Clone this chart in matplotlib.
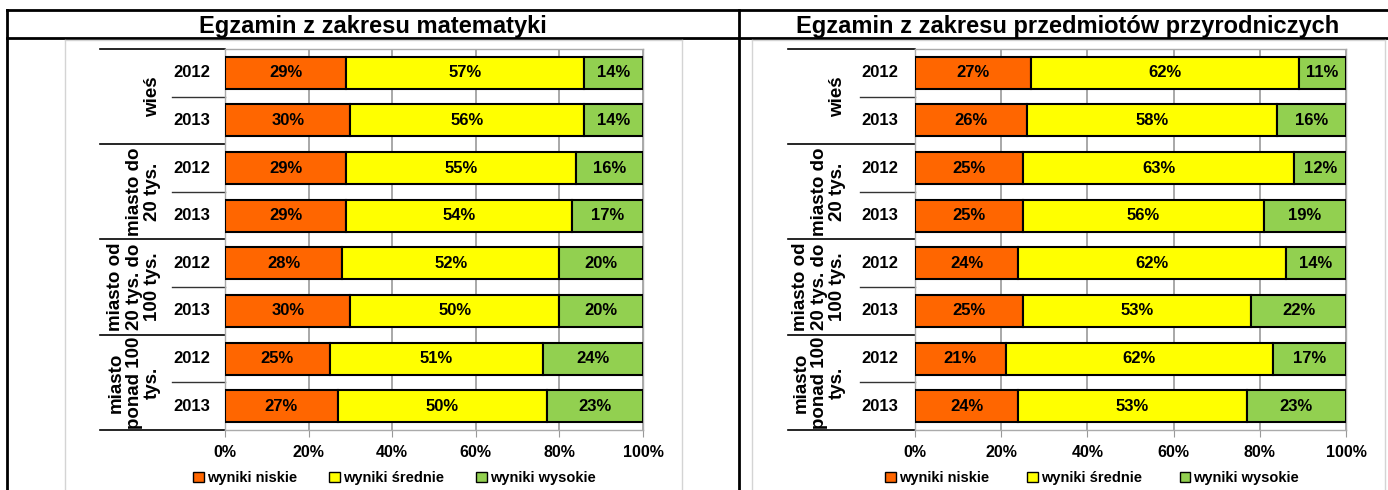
import matplotlib.pyplot as plt
import matplotlib.transforms as mtransforms
from matplotlib.lines import Line2D
from matplotlib.patches import Patch

plt.rcParams['font.family'] = ['Liberation Sans', 'DejaVu Sans']

# data
groups = ['wieś', 'miasto do\n20 tys.', 'miasto od\n20 tys. do\n100 tys.', 'miasto\nponad 100\ntys.']
years = ['2012', '2013']
series = ['wyniki niskie', 'wyniki średnie', 'wyniki wysokie']
colors = ['#FF6600', '#FFFF00', '#92D050']

math_low = [29, 30, 29, 29, 28, 30, 25, 27]
math_mid = [57, 56, 55, 54, 52, 50, 51, 50]
math_high = [14, 14, 16, 17, 20, 20, 24, 23]

sci_low = [27, 26, 25, 25, 24, 25, 21, 24]
sci_mid = [62, 58, 63, 56, 62, 53, 62, 53]
sci_high = [11, 16, 12, 19, 14, 22, 17, 23]

titles = ['Egzamin z zakresu matematyki', 'Egzamin z zakresu przedmiotów przyrodniczych']
ticks = [0, 20, 40, 60, 80, 100]

W, H = 1388, 490
fig = plt.figure(figsize=(W / 100, H / 100), dpi=100)


def fx(x):
    return x / W


def fy(y):
    return 1 - y / H


def fline(x0, x1, y0, y1, **kw):
    fig.add_artist(Line2D([fx(x0), fx(x1)], [fy(y0), fy(y1)], transform=fig.transFigure, **kw))


# table grid
fline(7, W, 10, 10, color='black', lw=2)
fline(7, W, 38, 38, color='black', lw=2)
fline(7, 7, 10, H, color='black', lw=2)
fline(739, 739, 10, H, color='black', lw=2)

panels = [
    dict(data=(math_low, math_mid, math_high), plot=(225, 643), frame=(65, 682),
         gline=100, yline=172, glab=161, ylab=192, leg=394, colsp=2.2, tx=373),
    dict(data=(sci_low, sci_mid, sci_high), plot=(915, 1346), frame=(752, 1385),
         gline=788, yline=860, glab=846, ylab=880, leg=1092, colsp=2.6, tx=1068),
]

top, bottom = 49, 430
for p, title in zip(panels, titles):
    x0, x1 = p['plot']
    fig.text(fx(p['tx']), fy(26), title, ha='center', va='center', fontsize=17, fontweight='bold')

    # light frame of the chart area
    fl, fr = p['frame']
    fline(fl, fl, 40, H, color='#d4d4d4', lw=1)
    fline(fr, fr, 40, H, color='#d4d4d4', lw=1)
    fline(fl, fr, 40, 40, color='#d4d4d4', lw=1)

    ax = fig.add_axes([fx(x0), fy(bottom), fx(x1) - fx(x0), fy(top) - fy(bottom)])
    n = len(p['data'][0])
    ypos = list(range(n))
    left = [0] * n
    for vals, col in zip(p['data'], colors):
        bars = ax.barh(ypos, vals, left=left, height=0.67, color=col, edgecolor='black', lw=1.5, zorder=3)
        for b, v in zip(bars, vals):
            ax.text(b.get_x() + b.get_width() / 2, b.get_y() + b.get_height() / 2, f'{v}%',
                    ha='center', va='center', fontsize=12, fontweight='bold', zorder=4)
        left = [l + v for l, v in zip(left, vals)]

    ax.set_xlim(0, 100)
    ax.set_ylim(n - 0.5, -0.5)
    ax.set_xticks(ticks)
    ax.set_xticklabels([f'{t}%' for t in ticks], fontsize=11.5, fontweight='bold')
    ax.tick_params(axis='x', length=5, color='#999999', pad=6)
    ax.set_yticks([])
    ax.xaxis.grid(True, color='#999999', lw=1.2, zorder=0)
    for s in ax.spines.values():
        s.set_color('#aaaaaa')
        s.set_linewidth(1)

    # category labels on the left
    tr = mtransforms.blended_transform_factory(fig.transFigure, ax.transData)
    for i in range(n):
        ax.text(fx(p['ylab']), i, years[i % 2], transform=tr, ha='center', va='center',
                fontsize=12, fontweight='bold')
    for g, name in enumerate(groups):
        c = 2 * g + 0.5
        ax.text(fx(p['glab']), c, name, transform=tr, rotation=90, ha='right', va='center',
                multialignment='center', fontsize=13.5, fontweight='bold', linespacing=1.1)
        ax.add_line(Line2D([fx(p['yline']), fx(x0)], [c, c], transform=tr, color='#333333',
                           lw=1, clip_on=False))
    for g in range(len(groups) + 1):
        yb = 2 * g - 0.5
        ax.add_line(Line2D([fx(p['gline']), fx(x0)], [yb, yb], transform=tr, color='black',
                           lw=1.2, clip_on=False))

    handles = [Patch(facecolor=c, edgecolor='black', lw=1) for c in colors]
    fig.legend(handles, series, loc='center', bbox_to_anchor=(fx(p['leg']), fy(478)), ncol=3,
               frameon=False, prop={'weight': 'bold', 'size': 10.5},
               handlelength=0.75, handleheight=0.75, handletextpad=0.2, columnspacing=p['colsp'])

fig.savefig('out.png', dpi=100)
